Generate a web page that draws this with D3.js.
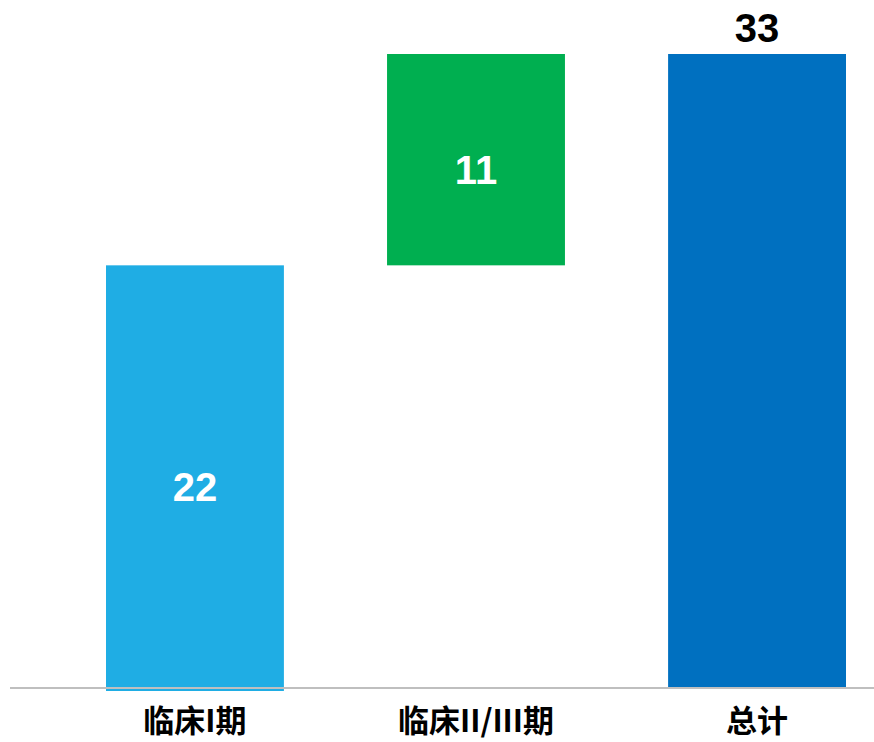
<!DOCTYPE html>
<html>
<head>
<meta charset="utf-8">
<script src="https://cdn.jsdelivr.net/npm/d3@7"></script>
<style>
  body { margin: 0; background: #fff; }
  svg { display: block; }
</style>
</head>
<body>
<svg width="874" height="742"></svg>
<script>
// waterfall data
const categories = ["临床I期", "临床II/III期", "总计"];
const values = [22, 11, 33];
const isTotal = [false, false, true];
const colors = ["#1FADE4", "#00AF50", "#0070C0"];

const svg = d3.select("svg");
const baseY = 688;

// running start for each step, total starts from zero
let run = 0;
const bars = categories.map((c, i) => {
  const start = isTotal[i] ? 0 : run;
  const end = isTotal[i] ? values[i] : run + values[i];
  if (!isTotal[i]) run = end;
  return { cat: c, value: values[i], start, end, total: isTotal[i], color: colors[i] };
});

const x = d3.scaleBand()
  .domain(categories)
  .range([106, 846])
  .paddingInner(0.367)
  .paddingOuter(0);

const y = d3.scaleLinear()
  .domain([0, 33])
  .range([baseY, 54]);

// bars
svg.selectAll("rect.bar")
  .data(bars)
  .join("rect")
  .attr("class", "bar")
  .attr("x", d => x(d.cat))
  .attr("width", x.bandwidth())
  .attr("y", d => y(d.end))
  .attr("height", d => y(d.start) - y(d.end) + (d.start === 0 && !d.total ? 3 : 0))
  .style("fill", d => d.color);

// baseline
svg.append("line")
  .attr("x1", 10).attr("x2", 874)
  .attr("y1", baseY).attr("y2", baseY)
  .style("stroke", "#BFBFBF")
  .style("stroke-width", 2);

// value labels
svg.selectAll("text.val")
  .data(bars)
  .join("text")
  .attr("class", "val")
  .attr("x", d => x(d.cat) + x.bandwidth() / 2)
  .attr("y", d => d.total ? y(d.end) - 12 : (y(d.start) + y(d.end)) / 2)
  .attr("dy", d => d.total ? 0 : "0.62em")
  .attr("text-anchor", "middle")
  .style("font-family", "'Liberation Sans', Arial, sans-serif")
  .style("font-weight", "bold")
  .style("font-size", "40px")
  .style("fill", d => d.total ? "#000" : "#fff")
  .text(d => d.value);

// category labels
svg.selectAll("text.cat")
  .data(categories)
  .join("text")
  .attr("class", "cat")
  .attr("x", d => x(d) + x.bandwidth() / 2)
  .attr("y", 732)
  .attr("text-anchor", "middle")
  .style("font-family", "'Noto Sans CJK SC', sans-serif")
  .style("font-weight", "bold")
  .style("font-size", "31px")
  .style("fill", "#000")
  .text(d => d);
</script>
</body>
</html>
